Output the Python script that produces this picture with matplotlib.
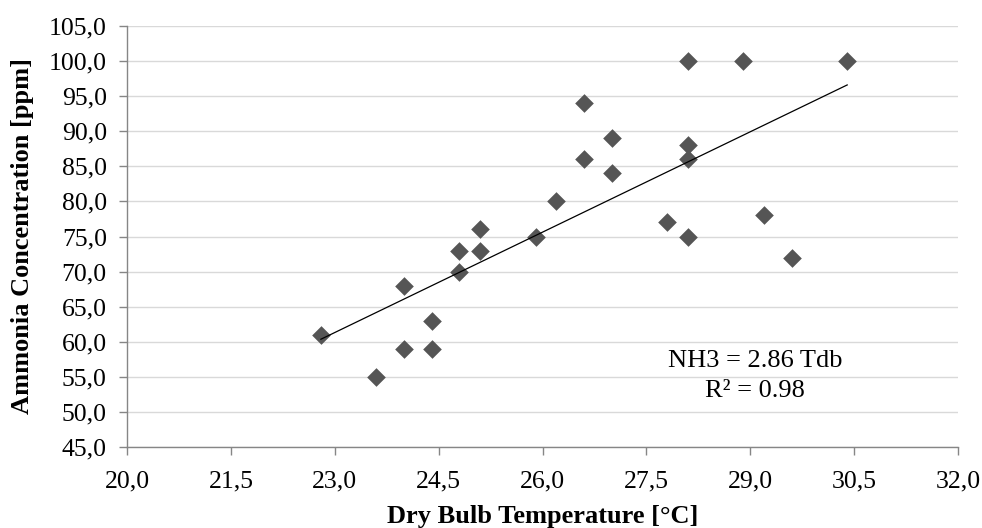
import numpy as np
import matplotlib
matplotlib.use("Agg")
import matplotlib.pyplot as plt
from matplotlib.ticker import FuncFormatter, MultipleLocator, FixedLocator

# Data
tdb = [22.8, 23.6, 24.0, 24.0, 24.4, 24.4, 24.8, 24.8, 25.1, 25.1, 25.9, 26.2,
       26.6, 26.6, 27.0, 27.0, 27.8, 28.1, 28.1, 28.1, 28.1, 28.9, 29.2, 29.6, 30.4]
nh3 = [61, 55, 68, 59, 63, 59, 73, 70, 76, 73, 75, 80,
       94, 86, 89, 84, 77, 100, 88, 86, 75, 100, 78, 72, 100]
x_ticks = [20.0, 21.5, 23.0, 24.5, 26.0, 27.5, 29.0, 30.5, 32.0]
x_label = "Dry Bulb Temperature [°C]"
y_label = "Ammonia Concentration [ppm]"
eq_text = "NH3 = 2.86 Tdb"
r2_text = "R² = 0.98"

plt.rcParams['font.family'] = ['Liberation Serif', 'DejaVu Serif']

fig = plt.figure(figsize=(9.82, 5.28), dpi=100)
ax = fig.add_axes([127/982, 1-447/528, (958-127)/982, (447-26)/528])

x = np.array(tdb)
y = np.array(nh3)
ax.scatter(x, y, marker='D', s=9.5**2, color='#555555', linewidths=0, zorder=3)

k, b = np.polyfit(x, y, 1)
xl = np.array([x.min(), x.max()])
ax.plot(xl, k*xl + b, color='black', lw=0.9, zorder=4)

ax.set_xlim(20, 32)
ax.set_ylim(45, 105)
ax.xaxis.set_major_locator(FixedLocator(x_ticks))
ax.yaxis.set_major_locator(MultipleLocator(5))
fmt = FuncFormatter(lambda v, p: f"{v:.1f}".replace('.', ','))
ax.xaxis.set_major_formatter(fmt)
ax.yaxis.set_major_formatter(fmt)

ax.grid(axis='y', color='#d9d9d9', lw=1.0, zorder=0)
ax.set_axisbelow(True)
for s in ['top', 'right']:
    ax.spines[s].set_visible(False)
for s in ['left', 'bottom']:
    ax.spines[s].set_color('#868686')
    ax.spines[s].set_linewidth(1.0)
ax.tick_params(axis='both', colors='#868686', labelcolor='black', labelsize=18.5,
               length=5.5, width=1.0, direction='out')
ax.tick_params(axis='x', pad=11.5)
ax.tick_params(axis='y', pad=9)

ax.set_xlabel(x_label, fontsize=19, fontweight='bold')
ax.xaxis.label.set_va('baseline')
ax.xaxis.set_label_coords(0.5, (447-523)/421)
ax.set_ylabel(y_label, fontsize=19, fontweight='bold')
ax.yaxis.set_label_coords(-0.1125, 0.5)

ax.text(29.07, 56.4, eq_text, ha='center', va='baseline', fontsize=19)
ax.text(29.07, 52.1, r2_text, ha='center', va='baseline', fontsize=19)

fig.savefig("out.png", dpi=100)
